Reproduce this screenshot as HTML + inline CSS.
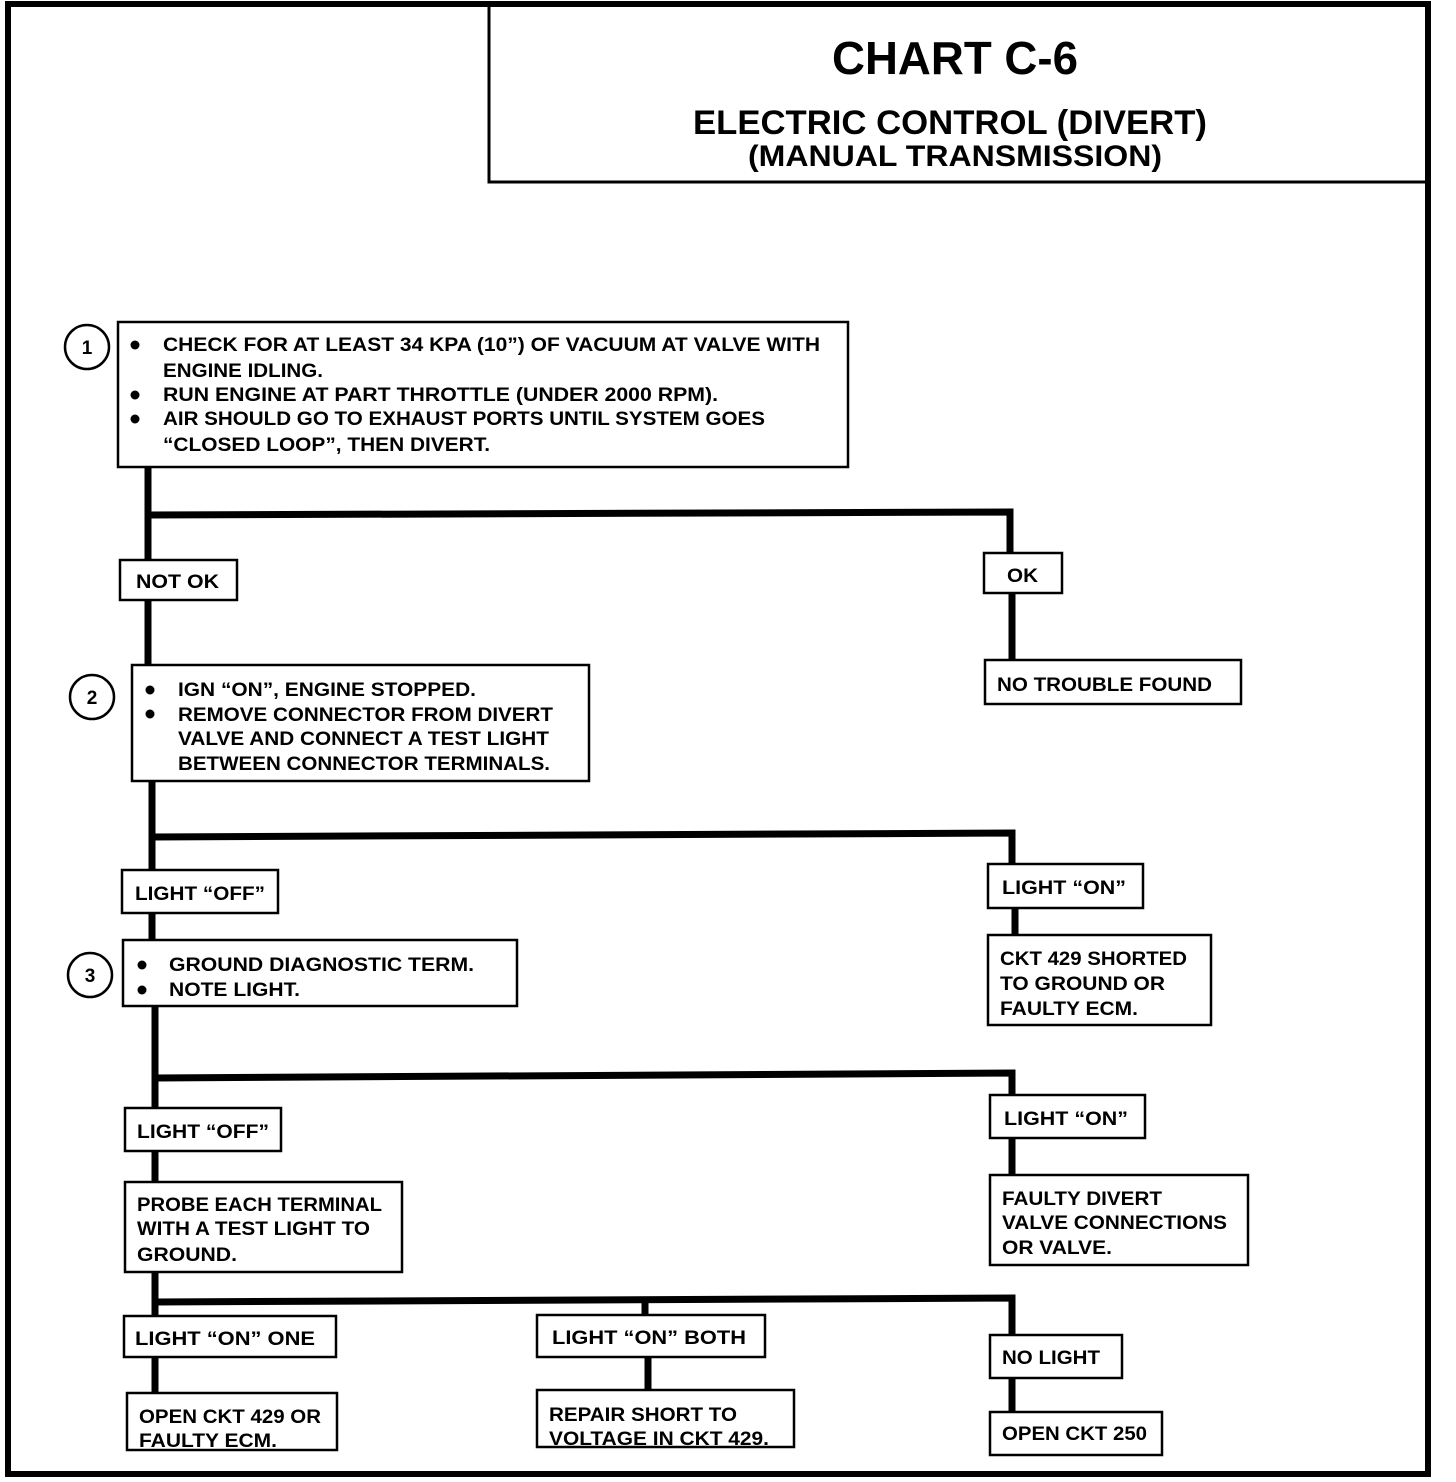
<!DOCTYPE html>
<html><head><meta charset="utf-8"><style>
html,body{margin:0;padding:0;background:#fff;}
svg{display:block;}
text{font-family:"Liberation Sans",sans-serif;font-weight:bold;fill:#000;}
</style></head><body>
<svg width="1456" height="1482" viewBox="0 0 1456 1482" xmlns="http://www.w3.org/2000/svg">
<rect width="1456" height="1482" fill="#fff"/>
<!-- outer border -->
<rect x="8" y="4" width="1420" height="1470" fill="none" stroke="#000" stroke-width="6"/>
<!-- title box -->
<polyline points="489,6 489,182 1428,182" fill="none" stroke="#000" stroke-width="3"/>
<text x="955" y="74" font-size="46" text-anchor="middle" textLength="246" lengthAdjust="spacingAndGlyphs">CHART C-6</text>
<text x="950" y="134" font-size="34" text-anchor="middle" textLength="514" lengthAdjust="spacingAndGlyphs">ELECTRIC CONTROL (DIVERT)</text>
<text x="955" y="166" font-size="30" text-anchor="middle" textLength="414" lengthAdjust="spacingAndGlyphs">(MANUAL TRANSMISSION)</text>

<g stroke="#000" stroke-width="7" fill="none">
<line x1="148" y1="467" x2="148" y2="665"/>
<polyline points="148,515 1010,512 1010,555"/>
<line x1="1012" y1="593" x2="1012" y2="660"/>
<line x1="152" y1="781" x2="152" y2="940"/>
<polyline points="152,837 1012,833 1012,865"/>
<line x1="1015" y1="908" x2="1015" y2="935"/>
<line x1="155" y1="1006" x2="155" y2="1318"/>
<polyline points="155,1078 1012,1073 1012,1095"/>
<line x1="1012" y1="1138" x2="1012" y2="1175"/>
<polyline points="155,1302 1012,1298 1012,1335"/>
<line x1="645" y1="1300" x2="645" y2="1315"/>
<line x1="155" y1="1357" x2="155" y2="1393"/>
<line x1="648" y1="1357" x2="648" y2="1390"/>
<line x1="1012" y1="1378" x2="1012" y2="1412"/>
</g>

<g stroke="#000" stroke-width="2.5" fill="#fff">
<rect x="118" y="322" width="730" height="145"/>
<rect x="120" y="560" width="117" height="40"/>
<rect x="984" y="553" width="78" height="40"/>
<rect x="985" y="660" width="256" height="44"/>
<rect x="132" y="665" width="457" height="116"/>
<rect x="122" y="870" width="156" height="43"/>
<rect x="988" y="864" width="155" height="44"/>
<rect x="988" y="935" width="223" height="90"/>
<rect x="123" y="940" width="394" height="66"/>
<rect x="125" y="1108" width="156" height="43"/>
<rect x="990" y="1095" width="155" height="43"/>
<rect x="990" y="1175" width="258" height="90"/>
<rect x="125" y="1182" width="277" height="90"/>
<rect x="124" y="1316" width="212" height="41"/>
<rect x="127" y="1393" width="210" height="57"/>
<rect x="537" y="1315" width="228" height="42"/>
<rect x="537" y="1390" width="257" height="57"/>
<rect x="990" y="1335" width="132" height="43"/>
<rect x="990" y="1412" width="172" height="43"/>
<circle cx="87" cy="347" r="22"/>
<circle cx="92" cy="697" r="22"/>
<circle cx="90" cy="975" r="22"/>
</g>
<text x="87" y="354" font-size="19" text-anchor="middle">1</text>
<text x="92" y="704" font-size="19" text-anchor="middle">2</text>
<text x="90" y="982" font-size="19" text-anchor="middle">3</text>

<g fill="#000">
<circle cx="135" cy="345" r="4.5"/><circle cx="135" cy="395" r="4.5"/><circle cx="135" cy="419" r="4.5"/>
<circle cx="150" cy="690" r="4.5"/><circle cx="150" cy="714" r="4.5"/>
<circle cx="142" cy="965" r="4.5"/><circle cx="142" cy="990" r="4.5"/>
</g>

<g font-size="19">
<text x="163" y="351" textLength="657" lengthAdjust="spacingAndGlyphs">CHECK FOR AT LEAST 34 KPA (10”) OF VACUUM AT VALVE WITH</text>
<text x="163" y="377" textLength="160" lengthAdjust="spacingAndGlyphs">ENGINE IDLING.</text>
<text x="163" y="401" textLength="555" lengthAdjust="spacingAndGlyphs">RUN ENGINE AT PART THROTTLE (UNDER 2000 RPM).</text>
<text x="163" y="425" textLength="602" lengthAdjust="spacingAndGlyphs">AIR SHOULD GO TO EXHAUST PORTS UNTIL SYSTEM GOES</text>
<text x="163" y="451" textLength="327" lengthAdjust="spacingAndGlyphs">“CLOSED LOOP”, THEN DIVERT.</text>

<text x="136" y="588" textLength="83" lengthAdjust="spacingAndGlyphs">NOT OK</text>
<text x="1007" y="582" textLength="31" lengthAdjust="spacingAndGlyphs">OK</text>
<text x="997" y="691" textLength="215" lengthAdjust="spacingAndGlyphs">NO TROUBLE FOUND</text>

<text x="178" y="696" textLength="298" lengthAdjust="spacingAndGlyphs">IGN “ON”, ENGINE STOPPED.</text>
<text x="178" y="721" textLength="375" lengthAdjust="spacingAndGlyphs">REMOVE CONNECTOR FROM DIVERT</text>
<text x="178" y="745" textLength="371" lengthAdjust="spacingAndGlyphs">VALVE AND CONNECT A TEST LIGHT</text>
<text x="178" y="770" textLength="372" lengthAdjust="spacingAndGlyphs">BETWEEN CONNECTOR TERMINALS.</text>

<text x="135" y="900" textLength="130" lengthAdjust="spacingAndGlyphs">LIGHT “OFF”</text>
<text x="1002" y="894" textLength="124" lengthAdjust="spacingAndGlyphs">LIGHT “ON”</text>
<text x="1000" y="965" textLength="187" lengthAdjust="spacingAndGlyphs">CKT 429 SHORTED</text>
<text x="1000" y="990" textLength="165" lengthAdjust="spacingAndGlyphs">TO GROUND OR</text>
<text x="1000" y="1015" textLength="138" lengthAdjust="spacingAndGlyphs">FAULTY ECM.</text>

<text x="169" y="971" textLength="305" lengthAdjust="spacingAndGlyphs">GROUND DIAGNOSTIC  TERM.</text>
<text x="169" y="996" textLength="131" lengthAdjust="spacingAndGlyphs">NOTE LIGHT.</text>

<text x="137" y="1138" textLength="132" lengthAdjust="spacingAndGlyphs">LIGHT “OFF”</text>
<text x="1004" y="1125" textLength="124" lengthAdjust="spacingAndGlyphs">LIGHT “ON”</text>
<text x="1002" y="1205" textLength="160" lengthAdjust="spacingAndGlyphs">FAULTY DIVERT</text>
<text x="1002" y="1229" textLength="225" lengthAdjust="spacingAndGlyphs">VALVE CONNECTIONS</text>
<text x="1002" y="1254" textLength="110" lengthAdjust="spacingAndGlyphs">OR VALVE.</text>

<text x="137" y="1211" textLength="245" lengthAdjust="spacingAndGlyphs">PROBE EACH TERMINAL</text>
<text x="137" y="1235" textLength="233" lengthAdjust="spacingAndGlyphs">WITH A TEST LIGHT TO</text>
<text x="137" y="1261" textLength="100" lengthAdjust="spacingAndGlyphs">GROUND.</text>

<text x="135" y="1345" textLength="180" lengthAdjust="spacingAndGlyphs">LIGHT  “ON” ONE</text>
<text x="139" y="1423" textLength="182" lengthAdjust="spacingAndGlyphs">OPEN CKT 429 OR</text>
<text x="139" y="1447" textLength="138" lengthAdjust="spacingAndGlyphs">FAULTY ECM.</text>
<text x="552" y="1344" textLength="194" lengthAdjust="spacingAndGlyphs">LIGHT  “ON” BOTH</text>
<text x="549" y="1421" textLength="188" lengthAdjust="spacingAndGlyphs">REPAIR  SHORT TO</text>
<text x="549" y="1445" textLength="220" lengthAdjust="spacingAndGlyphs">VOLTAGE IN CKT 429.</text>
<text x="1002" y="1364" textLength="98" lengthAdjust="spacingAndGlyphs">NO LIGHT</text>
<text x="1002" y="1440" textLength="145" lengthAdjust="spacingAndGlyphs">OPEN CKT 250</text>
</g>
</svg>
</body></html>
